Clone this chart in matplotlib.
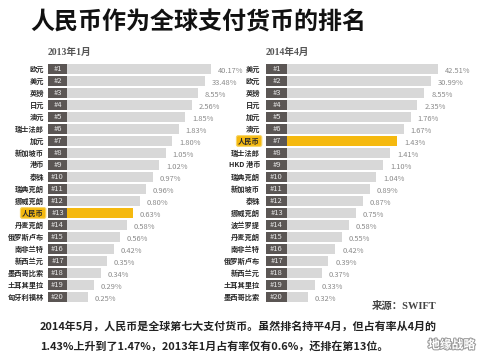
import matplotlib
matplotlib.use("Agg")
import matplotlib.pyplot as plt
import matplotlib.patheffects as pe

plt.rcParams['font.family'] = ['Noto Sans CJK SC', 'DejaVu Sans']

# 2013年1月
names_2013 = ['欧元', '美元', '英镑', '日元', '澳元', '瑞士法郎', '加元', '新加坡币', '港币', '泰铢',
              '瑞典克朗', '挪威克朗', '人民币', '丹麦克朗', '俄罗斯卢布', '南非兰特', '新西兰元',
              '墨西哥比索', '土耳其里拉', '匈牙利福林']
share_2013 = [40.17, 33.48, 8.55, 2.56, 1.85, 1.83, 1.80, 1.05, 1.02, 0.97,
              0.96, 0.80, 0.63, 0.58, 0.56, 0.42, 0.35, 0.34, 0.29, 0.25]

# 2014年4月
names_2014 = ['美元', '欧元', '英镑', '日元', '加元', '澳元', '人民币', '瑞士法郎', 'HKD 港币', '瑞典克朗',
              '新加坡币', '泰铢', '挪威克朗', '波兰罗提', '丹麦克朗', '南非兰特', '俄罗斯卢布',
              '新西兰元', '土耳其里拉', '墨西哥比索']
share_2014 = [42.51, 30.99, 8.55, 2.35, 1.76, 1.67, 1.43, 1.41, 1.10, 1.04,
              0.89, 0.87, 0.75, 0.58, 0.55, 0.42, 0.39, 0.37, 0.33, 0.32]

highlight = '人民币'

W, H = 490, 364
fig = plt.figure(figsize=(W / 100, H / 100), dpi=100)
fig.patch.set_facecolor('white')

GRAY = '#d8d8d8'
DARK = '#5b5654'
GOLD = '#f5b90f'


def panel(x_px, names, shares, label_end, box_left, box_w, bar_max, step, year):
    # panel axes: local x in pixels, y in rank units
    ax = fig.add_axes([x_px / W, 1 - 303 / H, 245 / W, 240 / H])
    ax.set_xlim(0, 245)
    ax.set_ylim(20.5, 0.5)
    ax.axis('off')
    ranks = list(range(1, len(names) + 1))
    bar_left = box_left + box_w
    lengths = [bar_max - bar_left - step * (r - 1) for r in ranks]
    colors = [GOLD if n == highlight else GRAY for n in names]
    ax.barh(ranks, lengths, left=bar_left, height=0.82, color=colors)
    ax.barh(ranks, [box_w] * len(ranks), left=box_left, height=0.82, color=DARK)
    for r, n, s, ln in zip(ranks, names, shares, lengths):
        ax.text(box_left + box_w / 2, r, f'#{r}', ha='center', va='center',
                fontsize=5.5, color='#e8e8e8')
        if n == highlight:
            ax.text(label_end, r, n, ha='right', va='center', fontsize=5.2, color='#2a2a2a',
                    fontweight='bold',
                    bbox=dict(boxstyle='round,pad=0.25', fc=GOLD, ec='#f8d66a', lw=0.8))
        else:
            ax.text(label_end, r, n, ha='right', va='center', fontsize=5.2, color='#2a2a2a',
                    fontweight='bold')
        ax.text(bar_left + ln + 7, r + 0.15, f'{s:.2f}%', ha='left', va='center',
                fontsize=5.4, color='#8a8a8a')
    fig.text((x_px + box_left) / W, 1 - 52 / H, year, ha='left', va='center', fontsize=7,
             color='#555555', fontweight='bold',
             family=['Liberation Serif', 'Noto Sans CJK SC'])
    return ax


panel(0, names_2013, share_2013, 44, 48, 19, 211, 6.5, '2013年1月')
panel(245, names_2014, share_2014, 15, 21, 21, 193, 6.85, '2014年4月')

fig.text(30 / W, 1 - 22 / H, '人民币作为全球支付货币的排名', ha='left', va='center',
         fontsize=17.3, fontweight='bold', color='#111111')

fig.text(372 / W, 1 - 306 / H, '来源：SWIFT', ha='left', va='center', fontsize=7.5,
         fontweight='bold', color='#444444',
         family=['Liberation Serif', 'Noto Sans CJK SC'])

fig.text(40 / W, 1 - 326 / H, '2014年5月，人民币是全球第七大支付货币。虽然排名持平4月，但占有率从4月的',
         ha='left', va='center', fontsize=7.9, fontweight='bold', color='#222222')
fig.text(40 / W, 1 - 346 / H, '1.43%上升到了1.47%，2013年1月占有率仅有0.6%，还排在第13位。',
         ha='left', va='center', fontsize=7.9, fontweight='bold', color='#222222')

fig.text(428 / W, 1 - 345 / H, '地缘战略', ha='left', va='center', fontsize=8.5,
         fontweight='bold', color='white',
         path_effects=[pe.withStroke(linewidth=1.5, foreground='#9a9a9a')])

fig.savefig('out.png', dpi=100, facecolor='white')
